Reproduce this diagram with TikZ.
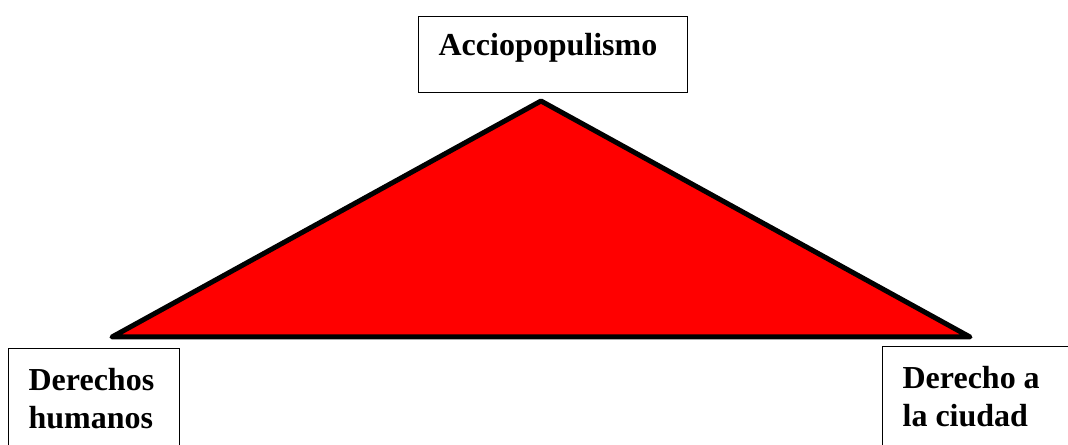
\documentclass[tikz,border=0pt]{standalone}
\usepackage{fontspec}
\setmainfont{Liberation Serif}
\usetikzlibrary{positioning}

\begin{document}
\begin{tikzpicture}[
    x=0.75pt,y=-0.75pt,
    box/.style={rectangle,draw,line width=0.9pt,anchor=north west,align=flush left,
                inner xsep=15pt,inner ysep=14.5pt,
                font=\fontsize{24}{28.5}\selectfont\bfseries},
    tri/.style={draw,fill=red,line width=3.75pt,line join=round}
]
\useasboundingbox (0,0) rectangle (1068,445);

\coordinate (apex) at (541,101);
\coordinate (left) at (112,337);
\coordinate (right) at (970,337);
\draw[tri] (apex) -- (right) -- (left) -- cycle;

\node[box,text width=171.75pt,inner ysep=0pt,text height=29.25pt,text depth=27.75pt] (acc) at (418,16) {Acciopopulismo};
\node[box,text width=98.25pt] (dh) at (8,348) {Derechos\\humanos\strut};
\node[box,text width=112.5pt] (dc) at (882,346) {Derecho a\\la ciudad\strut};
\end{tikzpicture}
\end{document}
